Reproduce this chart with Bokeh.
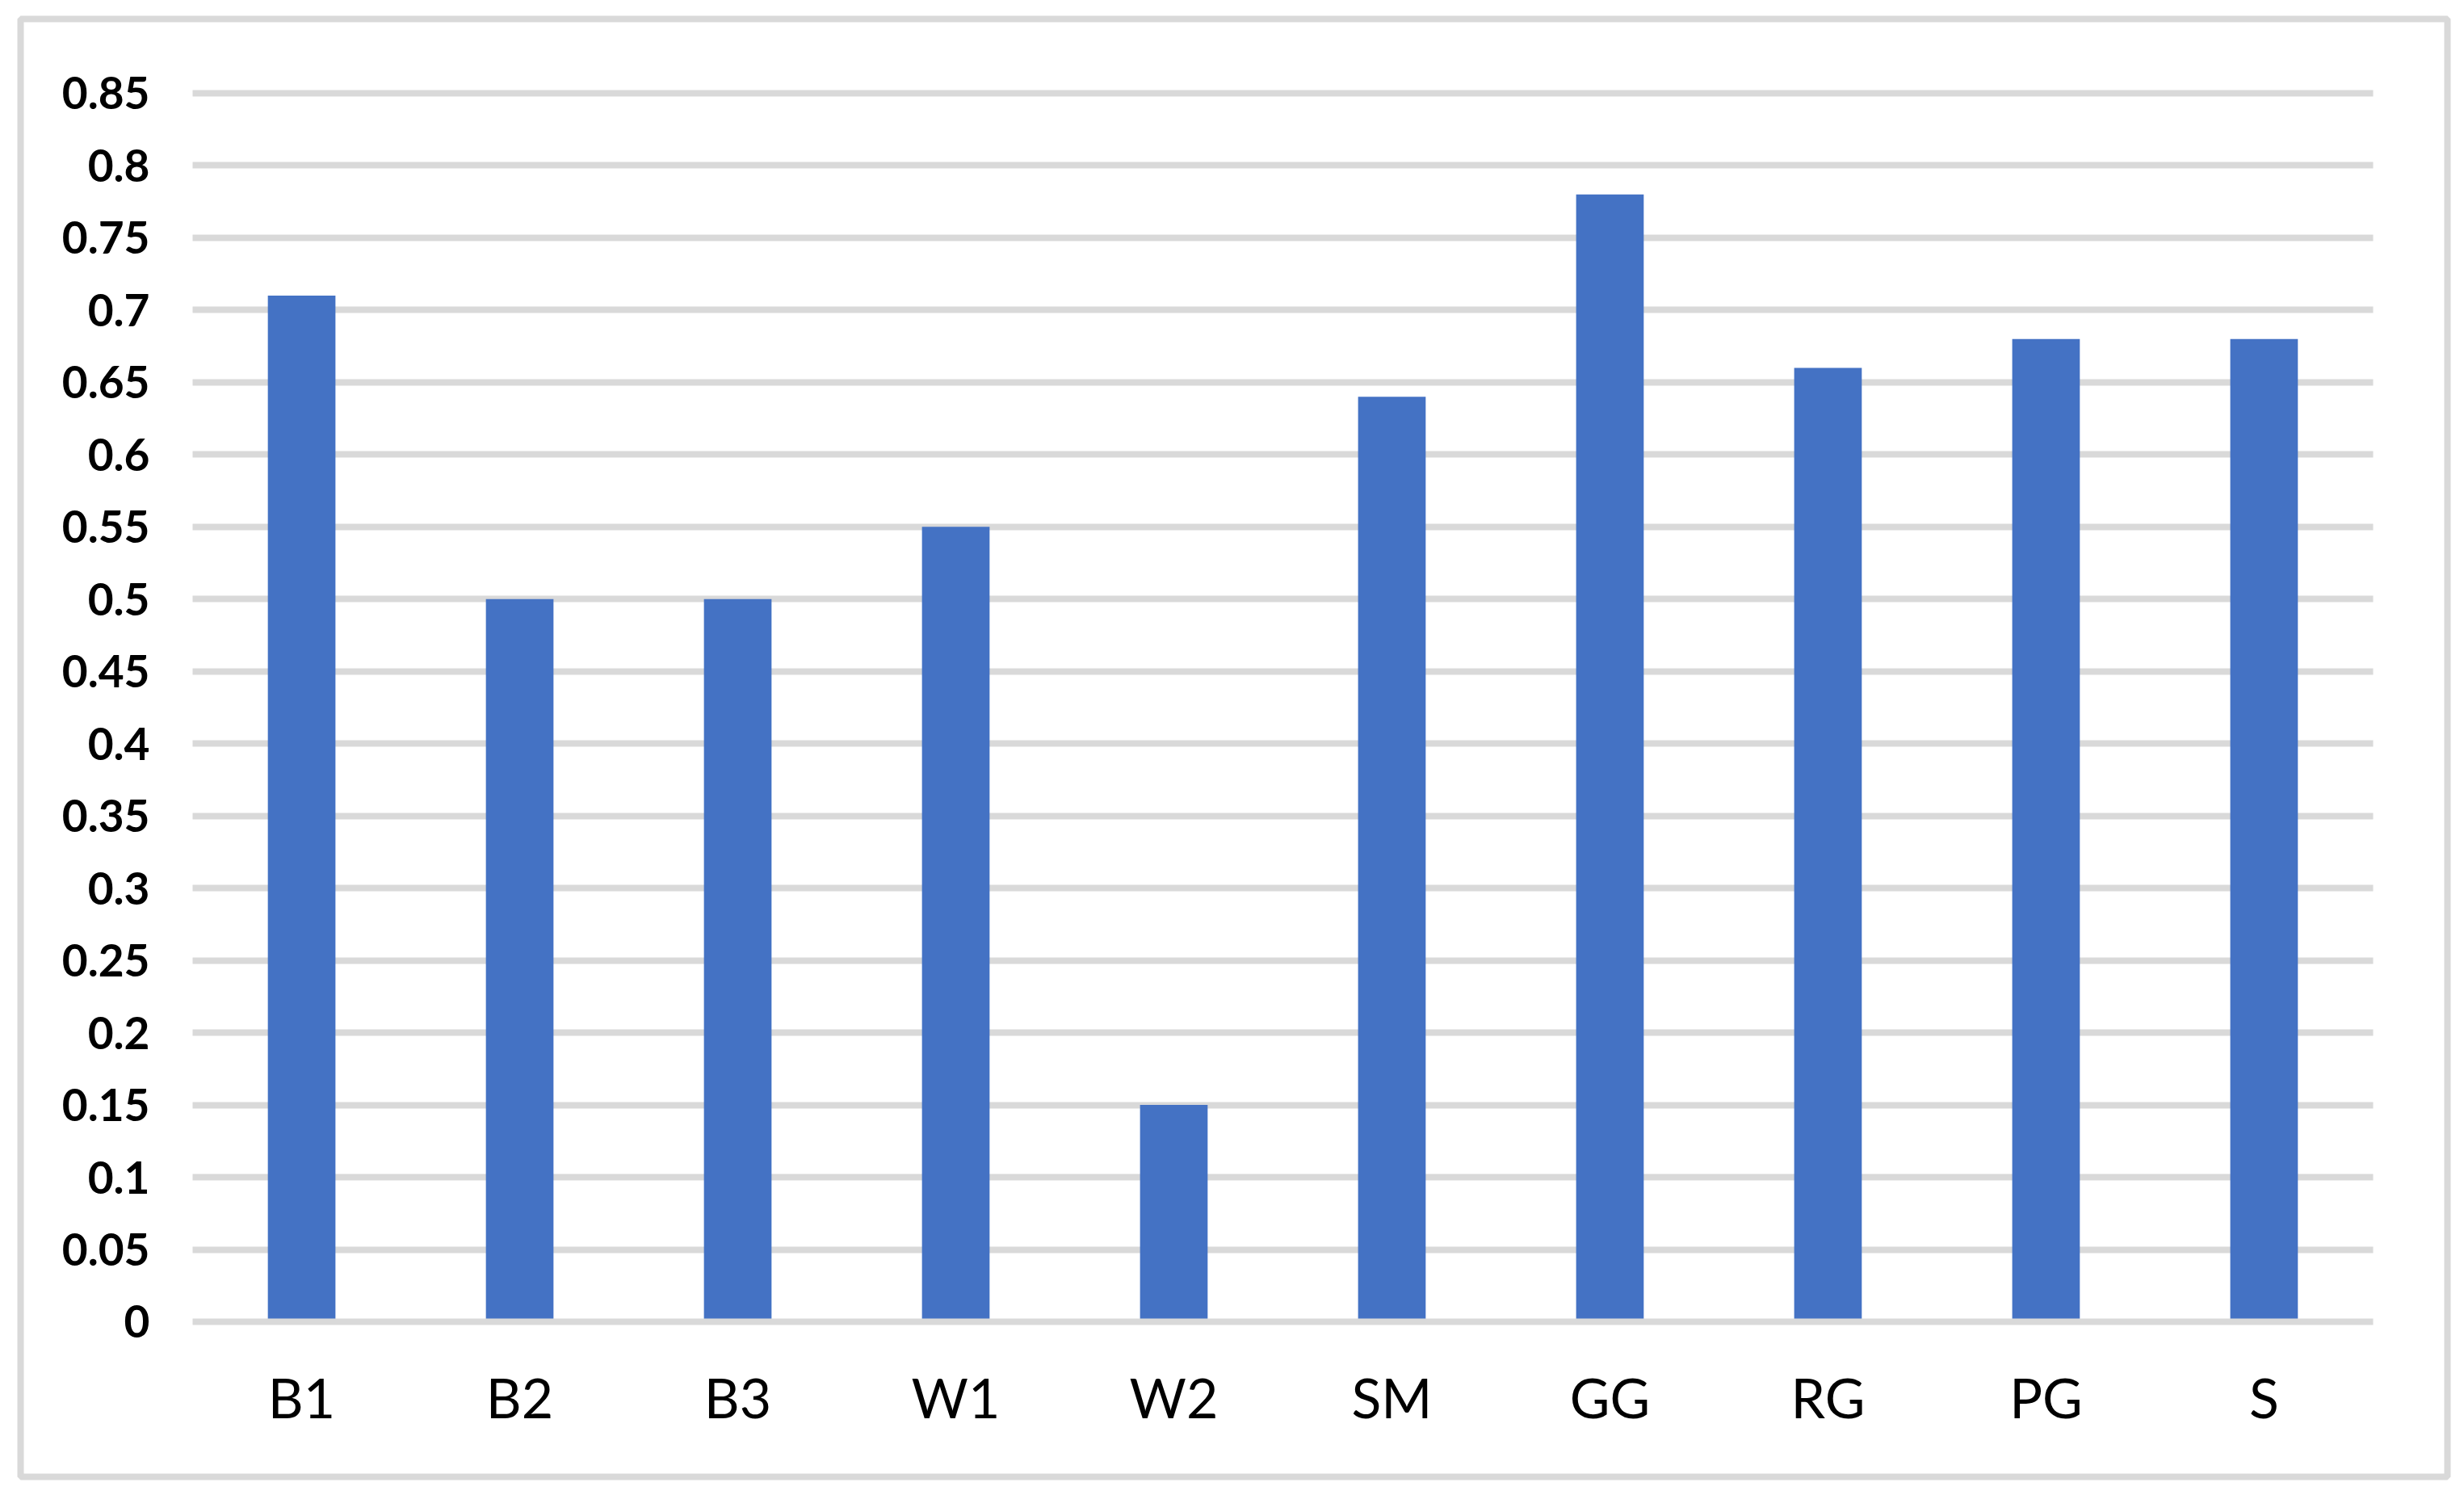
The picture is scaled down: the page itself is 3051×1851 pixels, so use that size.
from bokeh.plotting import figure
from bokeh.models import Range1d, FixedTicker, ColumnDataSource
from bokeh.embed import file_html
from bokeh.resources import INLINE

categories = ["B1", "B2", "B3", "W1", "W2", "SM", "GG", "RG", "PG", "S"]
values = [0.71, 0.50, 0.50, 0.55, 0.15, 0.64, 0.78, 0.66, 0.68, 0.68]
y_ticks = [0, 0.05, 0.1, 0.15, 0.2, 0.25, 0.3, 0.35, 0.4, 0.45, 0.5, 0.55, 0.6, 0.65, 0.7, 0.75, 0.8, 0.85]
y_tick_labels = ["0", "0.05", "0.1", "0.15", "0.2", "0.25", "0.3", "0.35", "0.4", "0.45", "0.5",
                 "0.55", "0.6", "0.65", "0.7", "0.75", "0.8", "0.85"]

# category slots: slot i spans [i, i+1], centre at i+0.5
x_pos = [i + 0.5 for i in range(len(categories))]
n = len(categories)

src = ColumnDataSource(dict(x=x_pos, cat=categories, val=values))

# frame = chart-area border rectangle
p = figure(
    width=3043, height=1843,
    x_range=Range1d(-0.789, n + 0.341),
    y_range=Range1d(-0.1073, 0.9014),
    output_backend="svg", toolbar_location=None,
    min_border_left=25, min_border_right=13, min_border_top=23, min_border_bottom=15,
)

p.vbar(x="x", top="val", width=0.31, bottom=0, source=src,
       fill_color="#4472C4", line_color=None)

p.outline_line_color = "#d9d9d9"
p.outline_line_width = 8
p.background_fill_color = "white"
p.border_fill_color = "white"

p.xgrid.grid_line_color = None
p.ygrid.grid_line_color = "#d9d9d9"
p.ygrid.grid_line_width = 8
p.ygrid.ticker = FixedTicker(ticks=y_ticks[1:])
p.ygrid.cross_bounds = (0, n)

# y axis drawn inside the frame at the left end of the gridlines
p.yaxis.fixed_location = 0
p.yaxis.ticker = FixedTicker(ticks=y_ticks)
p.yaxis.major_label_overrides = {t: l for t, l in zip(y_ticks, y_tick_labels)}
p.yaxis.axis_line_color = None
p.yaxis.major_tick_line_color = None
p.yaxis.minor_tick_line_color = None
p.yaxis.major_label_text_font = "Lato"
p.yaxis.major_label_text_font_style = "bold"
p.yaxis.major_label_text_font_size = "55px"
p.yaxis.major_label_text_color = "black"
p.yaxis.major_label_standoff = 47

# x axis drawn at value 0, its line is the 0 gridline
p.xaxis.fixed_location = 0
p.xaxis.bounds = (0, n)
p.xaxis.ticker = FixedTicker(ticks=x_pos)
p.xaxis.major_label_overrides = {x: c for x, c in zip(x_pos, categories)}
p.xaxis.axis_line_color = "#d9d9d9"
p.xaxis.axis_line_width = 8
p.xaxis.axis_line_cap = "butt"
p.xaxis.major_tick_line_color = None
p.xaxis.minor_tick_line_color = None
p.xaxis.major_label_text_font = "Lato"
p.xaxis.major_label_text_font_size = "68px"
p.xaxis.major_label_text_color = "black"
p.xaxis.major_label_standoff = 47

open("out.html", "w").write(file_html(p, INLINE))
